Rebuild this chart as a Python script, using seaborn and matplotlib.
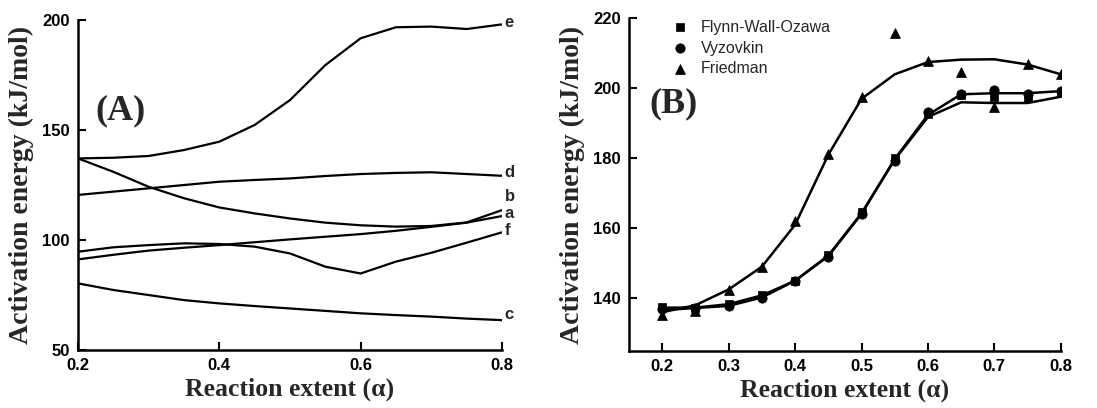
import numpy as np
import pandas as pd
from matplotlib import pyplot as plt
import seaborn as sns

# panel A: activation energy curves a-f
alpha_a = [0.2, 0.25, 0.3, 0.35, 0.4, 0.45, 0.5, 0.55, 0.6, 0.65, 0.7, 0.75, 0.8]
curve_a = [91.2, 93.3, 95.2, 96.5, 97.7, 99.0, 100.3, 101.5, 102.7, 104.2, 106.0, 107.9, 110.9]
curve_b = [137.1, 131.0, 124.2, 119.0, 114.8, 112.1, 109.8, 107.9, 106.7, 106.1, 106.4, 108.0, 113.6]
curve_c = [80.3, 77.3, 75.0, 72.7, 71.2, 70.0, 68.9, 67.8, 66.7, 65.9, 65.2, 64.3, 63.6]
curve_d = [120.5, 122.0, 123.5, 125.0, 126.5, 127.3, 128.0, 129.1, 130.0, 130.5, 130.8, 130.0, 129.2]
curve_e = [137.1, 137.4, 138.2, 140.9, 144.7, 152.3, 163.6, 179.5, 191.7, 196.7, 197.0, 195.9, 198.0]
curve_f = [94.7, 96.7, 97.7, 98.5, 98.2, 97.0, 93.9, 87.9, 84.8, 90.2, 94.2, 98.8, 103.5]
curve_names = ["a", "b", "c", "d", "e", "f"]
label_y = {"e": 198.8, "d": 130.8, "b": 120.0, "a": 112.0, "f": 104.5, "c": 66.0}

# panel B: measured points for three methods
alpha_b = [0.2, 0.25, 0.3, 0.35, 0.4, 0.45, 0.5, 0.55, 0.6, 0.65, 0.7, 0.75, 0.8]
fwo = [137.6, 137.1, 138.4, 141.0, 145.0, 152.4, 164.6, 180.0, 192.6, 198.1, 197.6, 197.3, 198.6]
vyz = [136.9, 137.1, 137.8, 140.0, 145.0, 151.9, 164.0, 179.2, 193.3, 198.3, 199.5, 198.3, 199.3]
fri = [135.2, 136.2, 142.4, 148.8, 162.1, 181.2, 197.6, 215.7, 207.8, 204.8, 194.6, 206.9, 204.0]
# fitted curves
fwo_fit = [137.3, 137.3, 138.3, 140.8, 145.0, 152.2, 164.3, 179.6, 191.8, 196.0, 195.8, 195.8, 197.6]
vyz_fit = [136.6, 137.2, 137.8, 140.2, 145.0, 152.0, 164.1, 179.8, 192.4, 198.3, 198.6, 198.6, 199.2]
fri_fit = [136.0, 138.0, 142.5, 149.0, 161.0, 181.0, 197.0, 204.0, 207.5, 208.2, 208.3, 206.8, 204.0]

sns.set_style("ticks")
plt.rcParams["font.family"] = ["Liberation Sans", "DejaVu Sans"]

fig = plt.figure(figsize=(10.97, 4.08), dpi=100)
axA = fig.add_axes([0.0711, 0.142, 0.3865, 0.809])
axB = fig.add_axes([0.5734, 0.1405, 0.3936, 0.8145])

serif = ["Liberation Serif", "DejaVu Serif"]

# ---- panel A
dfA = pd.DataFrame({"alpha": alpha_a, "a": curve_a, "b": curve_b, "c": curve_c,
                    "d": curve_d, "e": curve_e, "f": curve_f})
dfA = dfA.melt(id_vars="alpha", var_name="curve", value_name="Ea")
for name in curve_names:
    sub = dfA[dfA.curve == name]
    sns.lineplot(data=sub, x="alpha", y="Ea", ax=axA, color="black", lw=1.6)
    axA.text(0.804, label_y[name], name, fontsize=12, fontweight="bold",
             va="center", ha="left")
axA.set_xlim(0.2, 0.8)
axA.set_ylim(50, 200)
axA.set_xticks([0.2, 0.4, 0.6, 0.8])
axA.set_yticks([50, 100, 150, 200])
axA.text(0.224, 155, "(A)", fontsize=26, fontweight="bold", family=serif,
         va="baseline")

# ---- panel B
dfB = pd.DataFrame({"alpha": alpha_b, "fwo": fwo, "vyz": vyz, "fri": fri,
                    "fwo_fit": fwo_fit, "vyz_fit": vyz_fit, "fri_fit": fri_fit})
for col in ["fwo_fit", "vyz_fit", "fri_fit"]:
    sns.lineplot(data=dfB, x="alpha", y=col, ax=axB, color="black", lw=1.8)
sns.scatterplot(data=dfB, x="alpha", y="fwo", ax=axB, marker="s", color="black",
                s=40, edgecolor="black", label="Flynn-Wall-Ozawa", zorder=3)
sns.scatterplot(data=dfB, x="alpha", y="vyz", ax=axB, marker="o", color="black",
                s=45, edgecolor="black", label="Vyzovkin", zorder=3)
sns.scatterplot(data=dfB, x="alpha", y="fri", ax=axB, marker="^", color="black",
                s=50, edgecolor="black", label="Friedman", zorder=3)
axB.set_xlim(0.15, 0.8)
axB.set_ylim(125, 220)
axB.set_xticks([0.2, 0.3, 0.4, 0.5, 0.6, 0.7, 0.8])
axB.set_yticks([140, 160, 180, 200, 220])
axB.text(0.181, 193, "(B)", fontsize=26, fontweight="bold", family=serif,
         va="baseline")
leg = axB.legend(loc="upper left", bbox_to_anchor=(0.06, 1.025), frameon=False,
                 fontsize=11.5, handletextpad=0.3, labelspacing=0.37,
                 borderaxespad=0.2)

for ax in (axA, axB):
    sns.despine(ax=ax)
    for sp in ("left", "bottom"):
        ax.spines[sp].set_linewidth(1.8)
        ax.spines[sp].set_color("black")
    ax.tick_params(direction="in", length=6, width=1.5, labelsize=12, pad=6,
                   colors="black")
    for lab in ax.get_xticklabels() + ax.get_yticklabels():
        lab.set_fontweight("bold")
    ax.set_xlabel("Reaction extent (α)", fontsize=18.5, fontweight="bold",
                  family=serif, labelpad=3)
    ax.set_ylabel("Activation energy (kJ/mol)", fontsize=20, fontweight="bold",
                  family=serif, labelpad=6)

fig.savefig("out.png", dpi=100)
